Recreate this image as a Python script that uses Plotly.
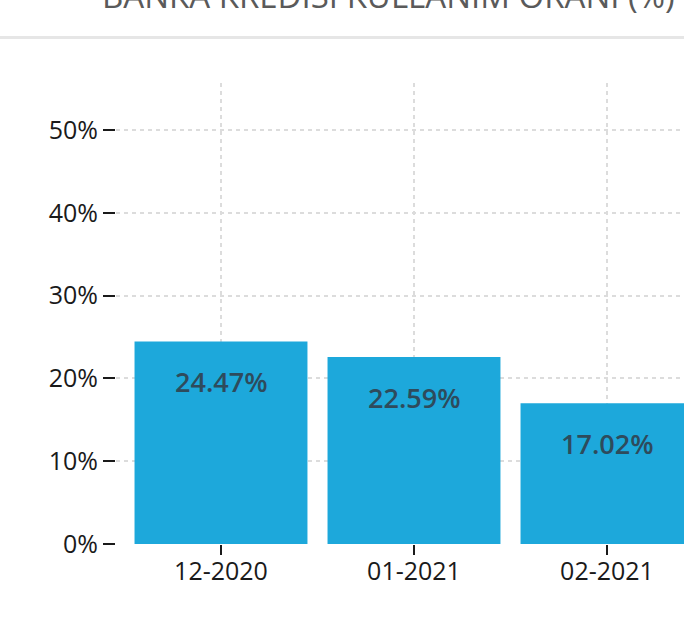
import plotly.graph_objects as go

categories = ["12-2020", "01-2021", "02-2021"]
values = [24.47, 22.59, 17.02]
y_ticks = [0, 10, 20, 30, 40, 50]
y_tick_labels = ["0%", "10%", "20%", "30%", "40%", "50%"]
title_text = "BANKA KREDİSİ KULLANIM ORANI (%)"

W, H = 684, 631
ML, MR, MT, MB = 116, 0, 83, 87

fig = go.Figure()
fig.add_trace(go.Bar(
    x=categories, y=values,
    marker=dict(color="#1da8db", line=dict(width=0)),
    hoverinfo="skip",
))

for c, v in zip(categories, values):
    fig.add_annotation(
        x=c, y=v, xref="x", yref="y", text=f"{v:.2f}%", showarrow=False,
        yshift=-40, yanchor="middle", xanchor="center",
        font=dict(family="Open Sans", size=27, color="#2e4b5c", weight=600),
    )

plot_h = H - MT - MB
fig.add_shape(type="line", xref="paper", yref="paper",
              x0=-0.3, x1=1.1, y0=1 + 45.5 / plot_h, y1=1 + 45.5 / plot_h,
              line=dict(color="#e6e6e6", width=3))

fig.update_layout(
    width=W, height=H,
    margin=dict(l=ML, r=MR, t=MT, b=MB, pad=0),
    paper_bgcolor="white", plot_bgcolor="white",
    bargap=0.104,
    showlegend=False,
    title=dict(text=title_text, x=102 / W, xanchor="left", xref="container",
               y=1 - 7.5 / H, yanchor="bottom", yref="container",
               font=dict(family="Open Sans", size=33, color="#5a5a5a")),
    font=dict(family="Open Sans", size=25, color="#1a1a1a"),
    xaxis=dict(
        range=[-0.544, 2.399], showgrid=True, gridcolor="#dcdcdc", gridwidth=2,
        griddash="4px,4px", ticks="outside", ticklen=10, tickwidth=2,
        tickcolor="#1a1a1a", showline=False, zeroline=False,
        ticklabelstandoff=-5,
        tickfont=dict(family="Open Sans", size=25, color="#1a1a1a"),
    ),
    yaxis=dict(
        range=[0, 55.7], tickvals=y_ticks, ticktext=y_tick_labels,
        showgrid=True, gridcolor="#dcdcdc", gridwidth=2, griddash="4px,4px",
        ticks="outside", ticklen=12, tickwidth=2, tickcolor="#1a1a1a",
        showline=False, zeroline=False,
        tickfont=dict(family="Open Sans", size=25, color="#1a1a1a"),
    ),
)

fig.write_html(
    "out.html",
    config={"displayModeBar": False},
    post_script="document.body.style.margin='0';document.body.style.overflow='hidden';",
)
